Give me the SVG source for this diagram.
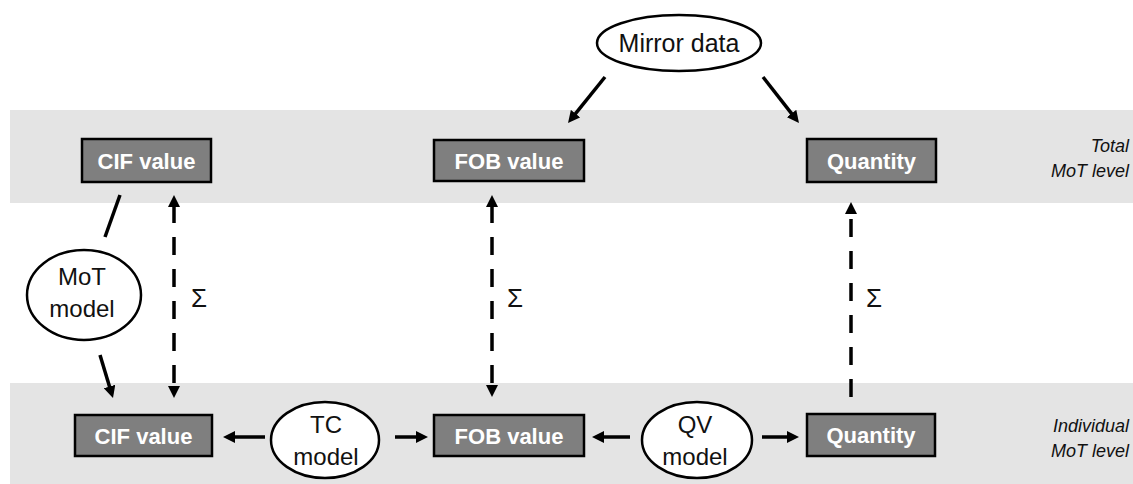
<svg xmlns="http://www.w3.org/2000/svg" width="1133" height="484" viewBox="0 0 1133 484">
  <style>
    .band { fill: #e4e4e4; }
    .box { fill: #7f7f7f; stroke: #000; stroke-width: 2.5; }
    .box-label { font-family: "Liberation Sans", Arial, sans-serif; font-weight: bold; font-size: 22px; fill: #fff; text-anchor: middle; }
    .oval { fill: #fff; stroke: #000; stroke-width: 2.5; }
    .oval-label { font-family: "Liberation Sans", Arial, sans-serif; font-size: 24px; fill: #111; text-anchor: middle; }
    .level { font-family: "Liberation Sans", Arial, sans-serif; font-style: italic; font-size: 18px; fill: #111; text-anchor: end; }
    .sigma { font-family: "Liberation Sans", Arial, sans-serif; font-size: 26px; fill: #111; }
    .link { stroke: #000; stroke-width: 3.5; fill: none; }
    .dash { stroke-dasharray: 18 14; }
  </style>
  <defs>
    <marker id="head" viewBox="0 0 12 12" markerWidth="12" markerHeight="12" refX="2" refY="6" orient="auto-start-reverse" markerUnits="userSpaceOnUse">
      <path d="M0,0 L12,6 L0,12 z" fill="#000"/>
    </marker>
  </defs>

  <!-- level bands -->
  <rect class="band" x="10" y="110" width="1123" height="93"/>
  <rect class="band" x="10" y="383" width="1123" height="101"/>

  <text class="level" x="1129" y="152">Total</text>
  <text class="level" x="1129" y="177">MoT level</text>
  <text class="level" x="1129" y="432">Individual</text>
  <text class="level" x="1129" y="457">MoT level</text>

  <!-- connectors -->
  <g id="connectors">
    <line class="link" x1="605" y1="77" x2="574.3" y2="115.2" marker-end="url(#head)"/>
    <line class="link" x1="763" y1="77" x2="792.8" y2="115.1" marker-end="url(#head)"/>
    <line class="link" x1="120" y1="195" x2="105" y2="237"/>
    <line class="link" x1="100" y1="355" x2="110.1" y2="388.4" marker-end="url(#head)"/>
    <line class="link dash" x1="174" y1="205" x2="174" y2="388" marker-start="url(#head)" marker-end="url(#head)"/>
    <line class="link dash" x1="492" y1="205" x2="492" y2="387" marker-start="url(#head)" marker-end="url(#head)"/>
    <line class="link dash" x1="851" y1="397" x2="851" y2="212" marker-end="url(#head)"/>
    <line class="link" x1="265" y1="437" x2="233" y2="437" marker-end="url(#head)"/>
    <line class="link" x1="395" y1="437" x2="418" y2="437" marker-end="url(#head)"/>
    <line class="link" x1="630" y1="437" x2="602" y2="437" marker-end="url(#head)"/>
    <line class="link" x1="762" y1="437" x2="789" y2="437" marker-end="url(#head)"/>
    <text class="sigma" x="191" y="307">Σ</text>
    <text class="sigma" x="507" y="307">Σ</text>
    <text class="sigma" x="866" y="307">Σ</text>
  </g>

  <!-- total level -->
  <g id="cif-total">
    <rect class="box" x="82" y="139" width="129" height="43"/>
    <text class="box-label" x="146.5" y="168.5">CIF value</text>
  </g>
  <g id="fob-total">
    <rect class="box" x="434" y="140" width="150" height="41"/>
    <text class="box-label" x="509" y="168.5">FOB value</text>
  </g>
  <g id="quantity-total">
    <rect class="box" x="807" y="139" width="129" height="43"/>
    <text class="box-label" x="871.5" y="168.5">Quantity</text>
  </g>

  <!-- individual level -->
  <g id="cif-individual">
    <rect class="box" x="75" y="415" width="137" height="41"/>
    <text class="box-label" x="143.5" y="443.5">CIF value</text>
  </g>
  <g id="fob-individual">
    <rect class="box" x="434" y="415" width="150" height="41"/>
    <text class="box-label" x="509" y="443.5">FOB value</text>
  </g>
  <g id="quantity-individual">
    <rect class="box" x="807" y="414" width="128" height="42"/>
    <text class="box-label" x="871" y="443">Quantity</text>
  </g>

  <!-- models and sources -->
  <g id="mirror-data">
    <ellipse class="oval" cx="679" cy="43" rx="82" ry="28"/>
    <text class="oval-label" x="679" y="52" style="font-size:25px">Mirror data</text>
  </g>
  <g id="mot-model">
    <ellipse class="oval" cx="84" cy="295" rx="57" ry="45"/>
    <text class="oval-label" x="82" y="285">MoT</text>
    <text class="oval-label" x="82" y="317">model</text>
  </g>
  <g id="tc-model">
    <ellipse class="oval" cx="325" cy="440" rx="54" ry="38"/>
    <text class="oval-label" x="326" y="433">TC</text>
    <text class="oval-label" x="326" y="465">model</text>
  </g>
  <g id="qv-model">
    <ellipse class="oval" cx="697" cy="440" rx="55" ry="38"/>
    <text class="oval-label" x="695" y="433">QV</text>
    <text class="oval-label" x="695" y="465">model</text>
  </g>
</svg>
